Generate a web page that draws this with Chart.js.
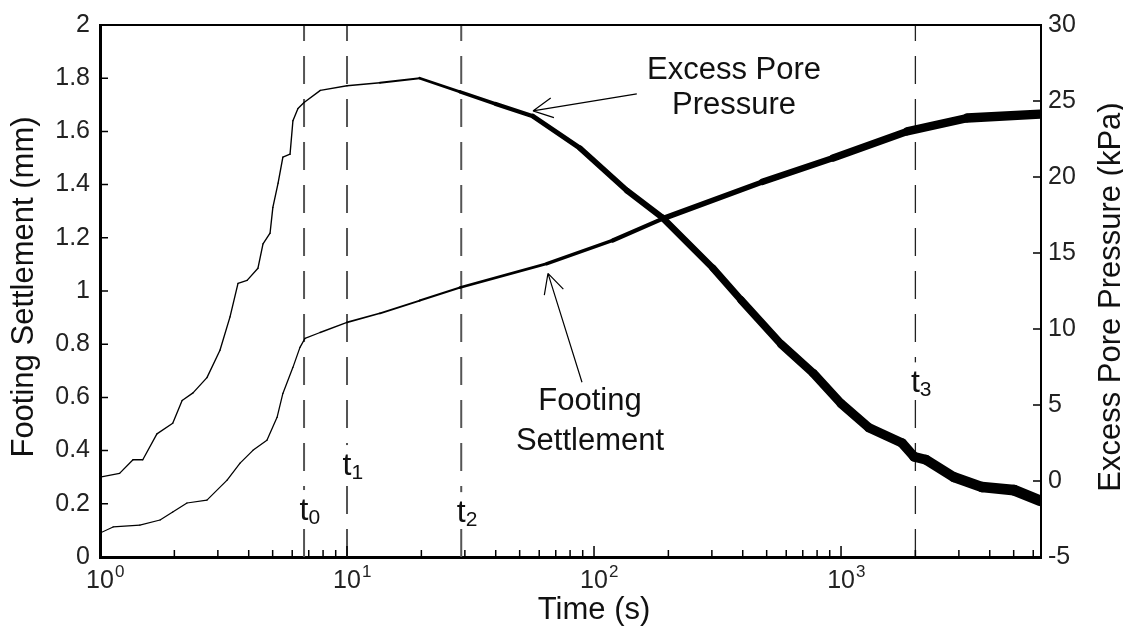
<!DOCTYPE html>
<html>
<head>
<meta charset="utf-8">
<script src="https://cdn.jsdelivr.net/npm/chart.js@4"></script>
<style>
  html, body { margin: 0; padding: 0; background: #fff; }
  canvas { display: block; }
</style>
</head>
<body>
<canvas id="chart" width="1123" height="626"></canvas>
<script>
const FONT = '"Liberation Sans", Arial, Helvetica, sans-serif';

// excess pore pressure (kPa, right axis) against time (s)
const poreTime = [1, 1.2, 1.36, 1.49, 1.7, 1.97, 2.15, 2.38, 2.71, 3.06, 3.36, 3.62, 3.94, 4.36, 4.57, 4.88,
  5.01, 5.26, 5.5, 5.88, 6.04, 6.33, 6.7, 7.8, 10, 13.6, 19.7, 28.7, 40, 56.6, 87.7, 136, 190, 303, 394,
  572, 771, 1000, 1297, 1766, 1975, 2208, 2866, 3725, 5014, 6400];
const porePressure = [0.25, 0.5, 1.4, 1.4, 3.1, 3.8, 5.3, 5.8, 6.8, 8.6, 10.8, 13.0, 13.2, 14.0, 15.6, 16.3,
  18.0, 19.6, 21.3, 21.5, 23.7, 24.5, 24.9, 25.7, 26.0, 26.2, 26.5, 25.6, 24.8, 24.0, 21.9, 19.1, 17.3, 14.0, 11.9,
  9.0, 7.1, 5.1, 3.5, 2.5, 1.6, 1.4, 0.25, -0.4, -0.6, -1.3];

// footing settlement (mm, left axis) against time (s)
const settleTime = [1, 1.13, 1.45, 1.75, 1.97, 2.25, 2.71, 3.27, 3.69, 4.16, 4.74, 5.21, 5.5, 6.04, 6.45,
  6.76, 7.78, 10, 13.6, 19.7, 28.7, 64.5, 119, 190, 480, 929, 1850, 3237, 6400];
const settlement = [0.09, 0.113, 0.12, 0.139, 0.169, 0.203, 0.214, 0.289, 0.353, 0.401, 0.439, 0.525, 0.615,
  0.713, 0.788, 0.822, 0.844, 0.882, 0.916, 0.964, 1.013, 1.103, 1.19, 1.272, 1.41, 1.50, 1.60, 1.65, 1.665];

// time markers t0..t3
const markerTimes = [6.7, 10, 29, 2000];
const markerSubs = ['0', '1', '2', '3'];
const markerLabelAt = [0.139, 0.308, 0.131, 0.619];

// axes
const leftTicks = [0, 0.2, 0.4, 0.6, 0.8, 1, 1.2, 1.4, 1.6, 1.8, 2];
const leftTickLabels = ['0', '0.2', '0.4', '0.6', '0.8', '1', '1.2', '1.4', '1.6', '1.8', '2'];
const rightTicks = [-5, 0, 5, 10, 15, 20, 25, 30];
const rightTickLabels = ['-5', '0', '5', '10', '15', '20', '25', '30'];
const xDecades = [1, 10, 100, 1000];
const xExponents = ['0', '1', '2', '3'];

// callouts, placed in data units (time, settlement)
const notes = [
  { lines: ['Excess Pore', 'Pressure'], t: 369, at: [1.797, 1.666] },
  { lines: ['Footing', 'Settlement'], t: 96.3, at: [0.552, 0.401] }
];
const arrows = [
  { from: [149, 1.741], to: [56.6, 1.677] },
  { from: [89.4, 0.657], to: [65.1, 1.066] }
];

// the noisy records show as a band that widens with time
const poreBand = [[0, 1.3], [1, 1.4], [1.3, 2.2], [1.6, 4], [2, 5.5], [2.5, 7], [3, 9], [3.8, 11]];
const settleBand = [[0, 1.2], [0.9, 1.3], [1.5, 2.4], [2, 3.6], [2.5, 5.5], [3, 7], [3.8, 10]];

function bandWidth(band, ctx) {
  const lt = (Math.log10(ctx.p0.parsed.x) + Math.log10(ctx.p1.parsed.x)) / 2;
  for (let i = 1; i < band.length; i++) {
    if (lt <= band[i][0]) {
      const f = (lt - band[i - 1][0]) / (band[i][0] - band[i - 1][0]);
      return band[i - 1][1] + f * (band[i][1] - band[i - 1][1]);
    }
  }
  return band[band.length - 1][1];
}

const datasets = [
  {
    label: 'Excess Pore Pressure',
    data: poreTime.map((t, i) => ({ x: t, y: porePressure[i] })),
    yAxisID: 'y1',
    borderColor: '#000',
    borderWidth: 1.3,
    borderCapStyle: 'round',
    borderJoinStyle: 'round',
    pointRadius: 0,
    segment: { borderWidth: ctx => bandWidth(poreBand, ctx) }
  },
  {
    label: 'Footing Settlement',
    data: settleTime.map((t, i) => ({ x: t, y: settlement[i] })),
    yAxisID: 'y',
    borderColor: '#000',
    borderWidth: 1.2,
    borderCapStyle: 'round',
    borderJoinStyle: 'round',
    pointRadius: 0,
    segment: { borderWidth: ctx => bandWidth(settleBand, ctx) }
  }
];
markerTimes.forEach((t, i) => {
  datasets.push({
    label: 't' + markerSubs[i],
    data: [{ x: t, y: 0 }, { x: t, y: 2 }],
    yAxisID: 'y',
    borderColor: i < 3 ? '#555' : '#222',
    borderWidth: i < 3 ? 2 : 1.3,
    borderDash: [28, 15],
    pointRadius: 0
  });
});

const overlay = {
  id: 'overlay',
  afterDatasetsDraw(chart) {
    const { ctx, scales } = chart;
    const xs = scales.x, ys = scales.y;
    ctx.save();
    ctx.fillStyle = '#111';

    // t labels with white backing
    markerTimes.forEach((t, i) => {
      const px = xs.getPixelForValue(t);
      const py = ys.getPixelForValue(markerLabelAt[i]);
      ctx.font = '32px ' + FONT;
      const tw = ctx.measureText('t').width;
      ctx.font = '21px ' + FONT;
      const sw = ctx.measureText(markerSubs[i]).width;
      const x0 = px - tw / 2;
      ctx.fillStyle = '#fff';
      ctx.fillRect(x0 - 3, py - 30, tw + sw + 6, 36);
      ctx.fillStyle = '#111';
      ctx.textAlign = 'left';
      ctx.textBaseline = 'alphabetic';
      ctx.font = '32px ' + FONT;
      ctx.fillText('t', x0, py);
      ctx.font = '21px ' + FONT;
      ctx.fillText(markerSubs[i], x0 + tw, py + 4);
    });

    // callout texts
    ctx.font = '31px ' + FONT;
    ctx.textAlign = 'center';
    notes.forEach(n => {
      const px = xs.getPixelForValue(n.t);
      n.lines.forEach((s, k) => ctx.fillText(s, px, ys.getPixelForValue(n.at[k])));
    });

    // arrows
    ctx.strokeStyle = '#000';
    ctx.lineWidth = 1.2;
    arrows.forEach(ar => {
      const qx = xs.getPixelForValue(ar.from[0]), qy = ys.getPixelForValue(ar.from[1]);
      const px = xs.getPixelForValue(ar.to[0]), py = ys.getPixelForValue(ar.to[1]);
      const ang = Math.atan2(qy - py, qx - px);
      ctx.beginPath();
      ctx.moveTo(qx, qy);
      ctx.lineTo(px, py);
      [-0.47, 0.47].forEach(d => {
        ctx.moveTo(px, py);
        ctx.lineTo(px + 22 * Math.cos(ang + d), py + 22 * Math.sin(ang + d));
      });
      ctx.stroke();
    });
    ctx.restore();
  },
  afterDraw(chart) {
    const { ctx, chartArea: a, scales } = chart;
    const xs = scales.x, ys = scales.y, yr = scales.y1;
    ctx.save();
    ctx.strokeStyle = '#000';

    // top frame line
    ctx.lineWidth = 2;
    ctx.beginPath();
    ctx.moveTo(a.left, a.top);
    ctx.lineTo(a.right, a.top);
    ctx.stroke();

    // inward ticks
    ctx.lineWidth = 1.5;
    ctx.beginPath();
    xDecades.forEach(d => {
      for (let m = 1; m <= 9; m++) {
        const v = m * d;
        if (v > xs.max) break;
        const px = xs.getPixelForValue(v);
        ctx.moveTo(px, a.bottom);
        ctx.lineTo(px, a.bottom - (m === 1 ? 11 : 7));
      }
    });
    leftTicks.forEach(v => {
      const py = ys.getPixelForValue(v);
      ctx.moveTo(a.left, py);
      ctx.lineTo(a.left + 8, py);
    });
    rightTicks.forEach(v => {
      const py = yr.getPixelForValue(v);
      ctx.moveTo(a.right, py);
      ctx.lineTo(a.right - 8, py);
    });
    ctx.stroke();

    // x tick labels 10^n
    ctx.fillStyle = '#222';
    ctx.textBaseline = 'alphabetic';
    xDecades.forEach((d, i) => {
      const px = xs.getPixelForValue(d);
      ctx.font = '25px ' + FONT;
      const w = ctx.measureText('10').width;
      ctx.textAlign = 'left';
      ctx.fillText('10', px - w / 2, a.bottom + 31);
      ctx.font = '17px ' + FONT;
      ctx.fillText(xExponents[i], px + w / 2 + 1, a.bottom + 20);
    });

    // axis titles
    ctx.fillStyle = '#111';
    ctx.font = '31px ' + FONT;
    ctx.textAlign = 'center';
    ctx.fillText('Time (s)', a.left + (a.right - a.left) * 0.525, a.bottom + 62);

    ctx.save();
    ctx.translate(33, (a.top + a.bottom) / 2 - 4);
    ctx.rotate(-Math.PI / 2);
    ctx.fillText('Footing Settlement (mm)', 0, 0);
    ctx.restore();

    ctx.save();
    ctx.translate(a.right + 79, (a.top + a.bottom) / 2 + 6);
    ctx.rotate(-Math.PI / 2);
    ctx.fillText('Excess Pore Pressure (kPa)', 0, 0);
    ctx.restore();

    ctx.restore();
  }
};

new Chart(document.getElementById('chart'), {
  type: 'line',
  data: { datasets: datasets },
  options: {
    responsive: false,
    animation: false,
    devicePixelRatio: 1,
    layout: { padding: { top: 24, left: 0, right: 0, bottom: 0 } },
    plugins: { legend: { display: false }, tooltip: { enabled: false } },
    scales: {
      x: {
        type: 'logarithmic',
        min: 1,
        max: 6450,
        ticks: { display: false },
        grid: { display: false, drawTicks: false },
        border: { display: true, color: '#000', width: 3 },
        afterFit: s => { s.height = 69; }
      },
      y: {
        type: 'linear',
        position: 'left',
        min: 0,
        max: 2,
        afterBuildTicks: s => { s.ticks = leftTicks.map(v => ({ value: v })); },
        ticks: {
          callback: (v, i) => leftTickLabels[i],
          font: { family: FONT, size: 25 },
          color: '#222',
          padding: 10
        },
        grid: { display: false, drawTicks: false },
        border: { display: true, color: '#000', width: 3 },
        afterFit: s => { s.width = 100; }
      },
      y1: {
        type: 'linear',
        position: 'right',
        min: -5,
        max: 30,
        afterBuildTicks: s => { s.ticks = rightTicks.map(v => ({ value: v })); },
        ticks: {
          callback: (v, i) => rightTickLabels[i],
          font: { family: FONT, size: 25 },
          color: '#222',
          padding: 7
        },
        grid: { display: false, drawTicks: false },
        border: { display: true, color: '#000', width: 2 },
        afterFit: s => { s.width = 82; }
      }
    }
  },
  plugins: [overlay]
});
</script>
</body>
</html>
